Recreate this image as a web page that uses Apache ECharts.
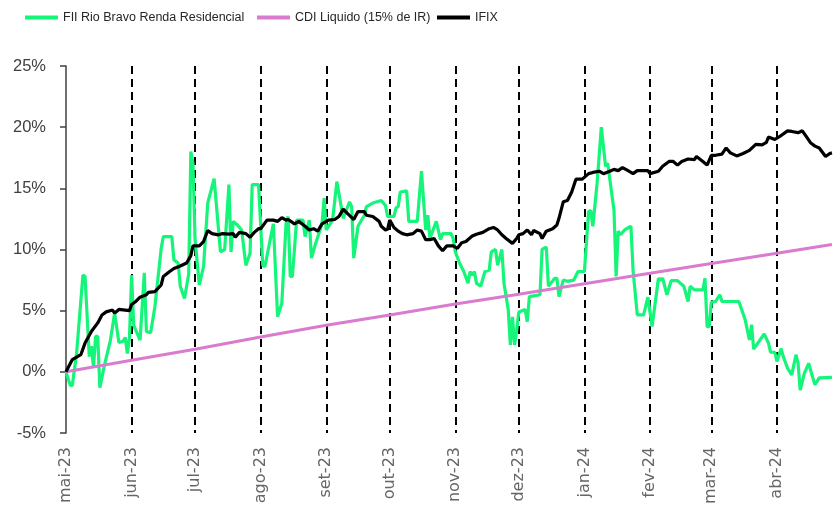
<!DOCTYPE html>
<html>
<head>
<meta charset="utf-8">
<script src="https://cdn.jsdelivr.net/npm/echarts@6/dist/echarts.min.js"></script>
<style>
html,body{margin:0;padding:0;background:#fff;}
#chart{width:833px;height:510px;}
</style>
</head>
<body>
<div id="chart"></div>
<script>
// ---- Data ----
const monthStarts = ['2023-05-01','2023-06-01','2023-07-01','2023-08-01','2023-09-01','2023-10-01','2023-11-01','2023-12-01','2024-01-01','2024-02-01','2024-03-01','2024-04-01'];
const monthLabels = ['mai-23','jun-23','jul-23','ago-23','set-23','out-23','nov-23','dez-23','jan-24','fev-24','mar-24','abr-24'];
const yTicks = [-5, 0, 5, 10, 15, 20, 25];

const seriesNames = ['FII Rio Bravo Renda Residencial', 'CDI Liquido (15% de IR)', 'IFIX'];

const fiiDates = ['2023-05-01','2023-05-03','2023-05-04','2023-05-06','2023-05-09','2023-05-10','2023-05-12','2023-05-13','2023-05-14','2023-05-15','2023-05-16','2023-05-17','2023-05-19','2023-05-22','2023-05-24','2023-05-26','2023-05-28','2023-05-29','2023-05-30','2023-05-31',
'2023-06-01','2023-06-02','2023-06-05','2023-06-07','2023-06-08','2023-06-10','2023-06-12','2023-06-15','2023-06-16','2023-06-20','2023-06-21','2023-06-23','2023-06-24','2023-06-26','2023-06-28','2023-06-29','2023-06-30',
'2023-07-01','2023-07-03','2023-07-05','2023-07-07','2023-07-10','2023-07-13','2023-07-15','2023-07-17','2023-07-18','2023-07-19','2023-07-21','2023-07-23','2023-07-25','2023-07-27','2023-07-28','2023-07-31',
'2023-08-02','2023-08-03','2023-08-07','2023-08-09','2023-08-11','2023-08-13','2023-08-14','2023-08-15','2023-08-16','2023-08-18','2023-08-21','2023-08-22','2023-08-24','2023-08-25','2023-08-27','2023-08-30','2023-08-31',
'2023-09-01','2023-09-04','2023-09-06','2023-09-07','2023-09-09','2023-09-12','2023-09-13','2023-09-14','2023-09-16','2023-09-19','2023-09-20','2023-09-23','2023-09-27','2023-09-29','2023-09-30',
'2023-10-03','2023-10-04','2023-10-05','2023-10-06','2023-10-09','2023-10-10','2023-10-14','2023-10-16','2023-10-18','2023-10-19','2023-10-20','2023-10-23','2023-10-25','2023-10-26','2023-10-30','2023-10-31',
'2023-11-01','2023-11-03','2023-11-05','2023-11-07','2023-11-08','2023-11-09','2023-11-10','2023-11-11','2023-11-13','2023-11-15','2023-11-17','2023-11-18','2023-11-20','2023-11-21','2023-11-23','2023-11-24','2023-11-26','2023-11-27','2023-11-28','2023-11-29','2023-11-30',
'2023-12-01','2023-12-04','2023-12-05','2023-12-06','2023-12-11','2023-12-12','2023-12-14','2023-12-15','2023-12-18','2023-12-19','2023-12-20','2023-12-22','2023-12-24','2023-12-27','2023-12-29',
'2024-01-01','2024-01-03','2024-01-04','2024-01-05','2024-01-07','2024-01-09','2024-01-11','2024-01-12','2024-01-15','2024-01-16','2024-01-17','2024-01-18','2024-01-20','2024-01-23','2024-01-24','2024-01-26','2024-01-29','2024-01-31',
'2024-02-02','2024-02-05','2024-02-06','2024-02-07','2024-02-09','2024-02-11','2024-02-14','2024-02-17','2024-02-19','2024-02-20','2024-02-22','2024-02-26','2024-02-27','2024-02-28','2024-02-29',
'2024-03-01','2024-03-03','2024-03-05','2024-03-06','2024-03-14','2024-03-17','2024-03-19','2024-03-20','2024-03-21','2024-03-24','2024-03-26','2024-03-28','2024-03-29','2024-03-31',
'2024-04-01','2024-04-03','2024-04-04','2024-04-06','2024-04-08','2024-04-10','2024-04-11','2024-04-12','2024-04-14','2024-04-16','2024-04-18','2024-04-19','2024-04-21','2024-04-27'];
const fiiValues = [0.0,-1.1,-1.1,1.5,7.9,7.8,1.25,2.1,0.4,2.9,2.9,-1.3,0.4,2.6,4.8,2.4,2.5,2.8,1.5,2.8,
7.9,3.8,2.6,8.1,3.3,3.2,5.3,10.1,11.05,11.05,9.15,8.9,7.0,6.0,8.0,18.0,17.05,
10.8,7.1,8.6,13.8,15.8,9.8,10.0,15.3,9.8,12.3,12.0,11.6,8.7,9.7,15.3,15.3,
8.7,8.6,12.1,4.5,5.6,12.1,12.7,7.8,7.8,12.4,12.4,11.05,12.4,9.3,10.5,12.1,14.2,
11.6,12.4,15.55,14.6,12.55,13.9,13.5,9.3,11.9,12.8,13.5,13.8,14.0,13.6,12.7,
12.7,13.4,13.5,14.7,14.8,12.3,12.3,16.4,11.6,12.8,10.9,12.3,10.8,11.3,11.3,10.9,
9.8,8.9,8.2,7.25,8.2,7.9,8.2,7.25,7.0,8.2,8.3,9.8,10.0,8.7,10.0,7.25,5.1,2.2,4.5,2.2,3.4,
4.9,5.1,4.1,6.15,6.3,10.0,10.2,7.0,7.65,7.65,6.15,7.5,7.4,7.5,8.2,
8.2,13.1,13.2,11.9,15.4,20.0,16.8,17.05,13.2,7.8,11.5,11.2,11.6,11.9,8.3,4.65,4.65,6.1,
3.7,7.65,7.5,7.65,6.3,7.45,7.45,7.0,5.75,7.0,6.7,6.7,7.65,3.7,3.7,
5.7,5.75,6.3,5.75,5.75,4.25,2.6,3.85,1.85,2.6,3.1,2.35,1.6,1.6,
0.85,1.9,1.25,0.3,-0.25,1.4,0.7,-1.5,-0.1,0.7,-0.5,-1.05,-0.5,-0.45];

const cdiDates = ['2023-05-01','2023-06-01','2023-07-01','2023-08-01','2023-09-01','2023-10-01','2023-11-01','2023-12-01','2024-01-01','2024-02-01','2024-03-01','2024-04-01','2024-04-27'];
const cdiValues = [0.0,0.95,1.85,2.85,3.8,4.65,5.55,6.35,7.2,8.05,8.85,9.7,10.4];

const ifixDates = ['2023-05-01','2023-05-04','2023-05-08','2023-05-10','2023-05-13','2023-05-16','2023-05-18','2023-05-20','2023-05-23','2023-05-24','2023-05-26','2023-05-29','2023-05-31',
'2023-06-01','2023-06-03','2023-06-05','2023-06-08','2023-06-09','2023-06-12','2023-06-15','2023-06-16','2023-06-19','2023-06-21','2023-06-24','2023-06-27','2023-06-29','2023-06-30',
'2023-07-03','2023-07-05','2023-07-07','2023-07-09','2023-07-12','2023-07-14','2023-07-17','2023-07-19','2023-07-20','2023-07-22','2023-07-25','2023-07-27','2023-07-29','2023-07-31',
'2023-08-01','2023-08-04','2023-08-07','2023-08-09','2023-08-11','2023-08-13','2023-08-14','2023-08-17','2023-08-19','2023-08-22','2023-08-24','2023-08-26','2023-08-28','2023-08-30',
'2023-09-02','2023-09-05','2023-09-07','2023-09-09','2023-09-11','2023-09-14','2023-09-16','2023-09-19','2023-09-20','2023-09-23','2023-09-26','2023-09-27','2023-09-29','2023-09-30',
'2023-10-01','2023-10-03','2023-10-05','2023-10-07','2023-10-09','2023-10-12','2023-10-14','2023-10-16','2023-10-18','2023-10-20','2023-10-22','2023-10-24','2023-10-26','2023-10-28','2023-10-31',
'2023-11-02','2023-11-04','2023-11-06','2023-11-09','2023-11-11','2023-11-14','2023-11-17','2023-11-19','2023-11-21','2023-11-23','2023-11-25','2023-11-28','2023-11-30',
'2023-12-01','2023-12-03','2023-12-05','2023-12-07','2023-12-08','2023-12-11','2023-12-12','2023-12-14','2023-12-17','2023-12-19','2023-12-20','2023-12-22','2023-12-24','2023-12-26','2023-12-28','2023-12-31',
'2024-01-03','2024-01-05','2024-01-08','2024-01-10','2024-01-13','2024-01-15','2024-01-17','2024-01-19','2024-01-21','2024-01-24','2024-01-26','2024-01-28','2024-01-31',
'2024-02-01','2024-02-05','2024-02-07','2024-02-10','2024-02-12','2024-02-14','2024-02-16','2024-02-19','2024-02-22','2024-02-23','2024-02-26','2024-02-28',
'2024-03-01','2024-03-03','2024-03-06','2024-03-08','2024-03-10','2024-03-13','2024-03-16','2024-03-19','2024-03-22','2024-03-25','2024-03-27','2024-03-28','2024-03-31',
'2024-04-02','2024-04-06','2024-04-08','2024-04-11','2024-04-13','2024-04-15','2024-04-17','2024-04-19','2024-04-21','2024-04-24','2024-04-26','2024-04-27'];
const ifixValues = [0.0,1.0,1.4,2.35,3.3,4.0,4.65,4.9,5.05,4.8,5.1,5.05,5.0,
5.5,5.75,6.1,6.3,6.5,6.55,7.1,7.8,8.2,8.45,8.65,8.9,9.5,10.3,
10.3,10.65,11.55,11.3,11.2,11.3,11.25,11.3,11.0,11.4,11.3,11.0,11.4,11.7,
11.7,12.4,12.4,12.3,12.6,12.4,12.45,12.1,12.3,11.9,11.6,11.7,11.5,12.1,
12.4,12.45,12.7,13.3,12.95,12.45,13.1,13.1,12.8,12.7,12.3,11.9,11.6,11.65,
12.4,11.8,11.5,11.3,11.2,11.3,11.6,11.5,10.8,10.8,10.9,10.3,9.9,10.3,10.3,
10.1,10.55,10.65,11.1,11.25,11.4,11.7,11.8,11.6,11.2,10.9,10.5,10.9,
11.2,11.3,11.6,11.2,11.55,11.3,10.9,11.5,11.7,12.0,12.55,13.9,14.0,14.7,15.75,15.75,
16.2,16.3,16.4,16.2,16.4,16.55,16.45,16.7,16.5,16.2,16.45,16.45,16.45,
16.2,16.4,16.8,17.2,17.2,16.9,17.2,17.4,17.35,17.6,17.2,16.9,
17.7,17.7,17.8,18.3,17.9,17.65,17.85,18.1,18.6,18.55,18.75,19.2,19.0,
19.2,19.7,19.65,19.55,19.7,19.2,18.7,18.45,18.3,17.6,17.85,17.9];

// ---- Helpers ----
function toTs(s) {
  const p = s.split('-').map(Number);
  return Date.UTC(p[0], p[1] - 1, p[2]);
}
function pairs(dates, values) { return dates.map((d, i) => [toTs(d), values[i]]); }

const monthTs = monthStarts.map(toTs);
const axisMin = toTs('2023-05-01');
const axisMax = toTs('2024-04-27') + 12 * 3600 * 1000;

const labelFont = "'Liberation Sans', Arial, sans-serif";

const colors = ['#14F57A', '#D97BCF', '#000000'];

function legendAt(name, left) {
  return {
    data: [name], left: left, top: 11, icon: 'rect', itemWidth: 33, itemHeight: 4,
    itemGap: 0, padding: 0, selectedMode: false,
    textStyle: { fontFamily: labelFont, fontSize: 12.5, color: '#262626' }
  };
}

const chart = echarts.init(document.getElementById('chart'), null, { renderer: 'canvas' });
chart.setOption({
  animation: false,
  backgroundColor: '#ffffff',
  color: colors,
  legend: [legendAt(seriesNames[0], 25), legendAt(seriesNames[1], 257), legendAt(seriesNames[2], 437)],
  grid: { left: 66, right: 0, top: 66, bottom: 77, containLabel: false },
  xAxis: {
    type: 'value', min: axisMin, max: axisMax,
    axisLine: { show: false },
    axisTick: { show: false, customValues: monthTs.slice(1) },
    splitLine: { show: true, lineStyle: { color: '#000', width: 2, type: [8, 5] } },
    axisLabel: {
      customValues: monthTs, rotate: 90, margin: 14, hideOverlap: false,
      fontFamily: 'DejaVu Sans', fontSize: 16, color: '#666666',
      formatter: function (v) { const i = monthTs.indexOf(v); return i >= 0 ? monthLabels[i] : ''; }
    }
  },
  yAxis: {
    type: 'value', min: yTicks[0], max: yTicks[yTicks.length - 1], interval: 5,
    axisLine: { show: true, lineStyle: { color: '#404040', width: 1.5 } },
    axisTick: { show: true, length: 6, lineStyle: { color: '#404040', width: 1.5 } },
    splitLine: { show: false },
    axisLabel: { fontFamily: labelFont, fontSize: 16.5, color: '#404040', margin: 20, formatter: '{value}%' }
  },
  series: [
    { name: seriesNames[0], type: 'line', data: pairs(fiiDates, fiiValues), showSymbol: false, symbol: 'none',
      lineStyle: { width: 3.2, color: colors[0] }, z: 3 },
    { name: seriesNames[1], type: 'line', data: pairs(cdiDates, cdiValues), showSymbol: false, symbol: 'none',
      lineStyle: { width: 3, color: colors[1] }, z: 4 },
    { name: seriesNames[2], type: 'line', data: pairs(ifixDates, ifixValues), showSymbol: false, symbol: 'none',
      lineStyle: { width: 3.2, color: colors[2] }, z: 5 }
  ]
});
</script>
</body>
</html>
